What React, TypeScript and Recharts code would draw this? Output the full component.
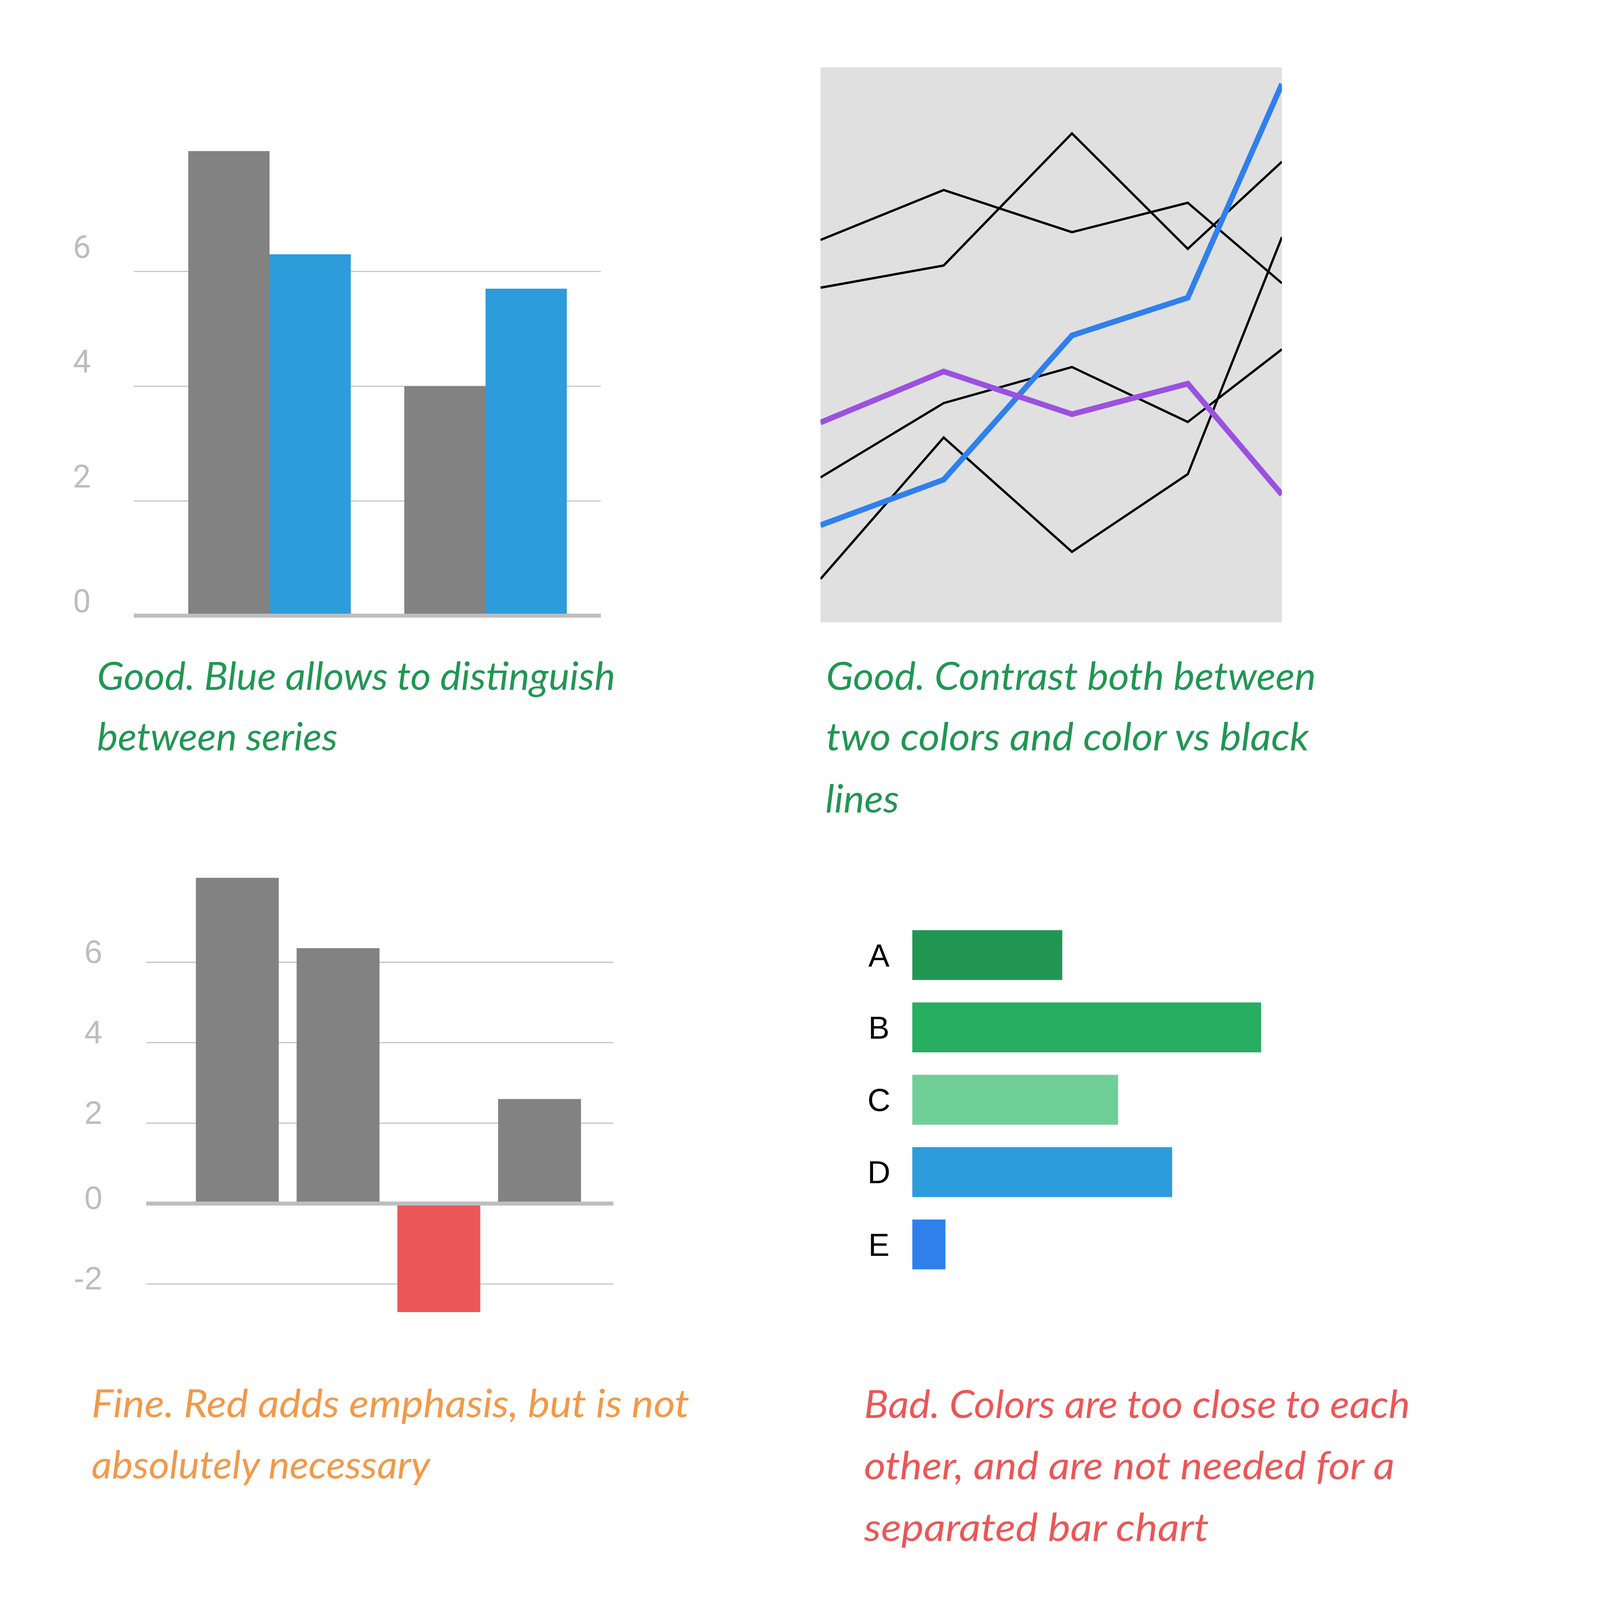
import React, { useEffect, useState } from 'react';
import {
  BarChart, Bar, LineChart, Line, Cell, XAxis, YAxis, CartesianGrid, ReferenceLine,
} from 'recharts';

// top-left: grouped bars
const GROUP_CATS = ['Group 1', 'Group 2'];
const GROUP_GRAY = [8.1, 4.0];
const GROUP_BLUE = [6.3, 5.7];
const GROUP_TICKS = [0, 2, 4, 6];

// top-right: lines on gray panel (x, 0..100)
const LINE_X = [0, 26.7, 54.5, 79.6, 100];
const LINE_BLACK_1 = [68.9, 77.9, 70.3, 75.6, 61.1];
const LINE_BLACK_2 = [60.3, 64.3, 88.1, 67.3, 83.0];
const LINE_BLACK_3 = [26.1, 39.5, 46.0, 36.1, 49.2];
const LINE_BLACK_4 = [7.8, 33.3, 12.7, 26.7, 69.4];
const LINE_BLUE = [17.5, 25.7, 51.7, 58.5, 97.0];
const LINE_PURPLE = [36.0, 45.2, 37.5, 43.0, 23.0];

// bottom-left: single series with one negative
const SINGLE_CATS = ['W', 'X', 'Y', 'Z'];
const SINGLE_VALUES = [8.1, 6.35, -2.7, 2.6];
const SINGLE_TICKS = [-2, 0, 2, 4, 6];

// bottom-right: horizontal bars
const HBAR_CATS = ['A', 'B', 'C', 'D', 'E'];
const HBAR_VALUES = [4.3, 10, 5.9, 7.45, 0.95];
const HBAR_COLORS = ['#219653', '#27AE60', '#6FCF97', '#2D9CDB', '#2F80ED'];

const GRAY = '#828282';
const GRID = '#BDBDBD';
const PAGE_W = 4392;
const PAGE_H = 4844;

const groupData = GROUP_CATS.map((name, i) => ({ name, gray: GROUP_GRAY[i], blue: GROUP_BLUE[i] }));
const singleData = SINGLE_CATS.map((name, i) => ({ name, value: SINGLE_VALUES[i] }));
const hbarData = HBAR_CATS.map((name, i) => ({ name, value: HBAR_VALUES[i] }));
const toLine = (ys: number[]) => LINE_X.map((x, i) => ({ x, y: ys[i] }));

const GroupTick = (props: any) => {
  const { x, y, payload } = props;
  const off = payload.value === 0 ? -11 : -41;
  return (
    <text x={x} y={y + off} textAnchor="end" fill={GRID} fontSize={97} fontFamily="Roboto">
      {payload.value}
    </text>
  );
};

const SingleTick = (props: any) => {
  const { x, y, payload } = props;
  const off = payload.value > 0 ? 2 : 16;
  return (
    <text x={x} y={y + off} textAnchor="end" fill={GRID} fontSize={98} fontFamily="Liberation Sans, Arial">
      {payload.value}
    </text>
  );
};

const HbarTick = (props: any) => {
  const { x, y, payload } = props;
  return (
    <text x={x} y={y} dy="0.355em" textAnchor="middle" fill="#000" fontSize={96} fontFamily="Liberation Sans, Arial">
      {payload.value}
    </text>
  );
};

type Caption = { text: string; x: number; y: number; w: number; color: string };

const CAPTIONS: Caption[] = [
  { text: 'Good. Blue allows to distinguish', x: 294, y: 2088, w: 1569, color: '#219653' },
  { text: 'between series', x: 294, y: 2272, w: 728, color: '#219653' },
  { text: 'Good. Contrast both between', x: 2501, y: 2088, w: 1483, color: '#219653' },
  { text: 'two colors and color vs black', x: 2501, y: 2272, w: 1462, color: '#219653' },
  { text: 'lines', x: 2499, y: 2460, w: 223, color: '#219653' },
  { text: 'Fine. Red adds emphasis, but is not', x: 277, y: 4290, w: 1810, color: '#F2994A' },
  { text: 'absolutely necessary', x: 277, y: 4476, w: 1025, color: '#F2994A' },
  { text: 'Bad. Colors are too close to each', x: 2616, y: 4293, w: 1653, color: '#EB5757' },
  { text: 'other, and are not needed for a', x: 2616, y: 4479, w: 1606, color: '#EB5757' },
  { text: 'separated bar chart', x: 2616, y: 4666, w: 1044, color: '#EB5757' },
];

const abs = (left: number, top: number): React.CSSProperties => ({ position: 'absolute', left, top });

// shrink the whole sheet if the window turns out smaller than the page
const fitScale = () => {
  const w = window.innerWidth || PAGE_W;
  const h = window.innerHeight || PAGE_H;
  return Math.min(1, w / PAGE_W, h / PAGE_H);
};

export default function App() {
  const [scale, setScale] = useState(fitScale);

  useEffect(() => {
    const onResize = () => setScale(fitScale());
    window.addEventListener('resize', onResize);
    return () => window.removeEventListener('resize', onResize);
  }, []);

  return (
    <div style={{ position: 'relative', margin: -8, width: PAGE_W * scale, height: PAGE_H * scale, overflow: 'hidden', background: '#fff' }}>
      <div style={{ position: 'absolute', left: 0, top: 0, width: PAGE_W, height: PAGE_H, background: '#fff',
        transform: `scale(${scale})`, transformOrigin: '0 0' }}>
        {/* top-left */}
        <div style={abs(0, 0)}>
          <BarChart width={1900} height={1900} data={groupData} barGap={0} barSize={246}
            margin={{ top: 301, right: 81, bottom: 36, left: 105 }}>
            <CartesianGrid vertical={false} stroke={GRID} strokeWidth={3} syncWithTicks />
            <XAxis dataKey="name" padding={{ left: 84, right: 22 }} hide />
            <YAxis type="number" domain={[0, 9]} ticks={GROUP_TICKS} width={300} axisLine={false}
              tickLine={false} tickSize={0} tickMargin={130} tick={GroupTick} />
            <Bar dataKey="gray" fill={GRAY} isAnimationActive={false} />
            <Bar dataKey="blue" fill="#2D9CDB" isAnimationActive={false} />
            <ReferenceLine y={0} stroke={GRID} strokeWidth={12} />
          </BarChart>
        </div>

        {/* top-right */}
        <div style={abs(2196, 0)}>
          <LineChart width={2196} height={2000} margin={{ top: 204, right: 511, bottom: 116, left: 288 }}>
            <CartesianGrid horizontal={false} vertical={false} fill="#E0E0E0" stroke="none" />
            <XAxis type="number" dataKey="x" domain={[0, 100]} hide allowDataOverflow />
            <YAxis type="number" domain={[0, 100]} hide allowDataOverflow />
            {[LINE_BLACK_1, LINE_BLACK_2, LINE_BLACK_3, LINE_BLACK_4].map((ys, i) => (
              <Line key={`black-${i}`} data={toLine(ys)} dataKey="y" type="linear" stroke="#000"
                strokeWidth={7} dot={false} activeDot={false} isAnimationActive={false} />
            ))}
            <Line data={toLine(LINE_BLUE)} dataKey="y" type="linear" stroke="#2F80ED" strokeWidth={17}
              dot={false} activeDot={false} isAnimationActive={false} />
            <Line data={toLine(LINE_PURPLE)} dataKey="y" type="linear" stroke="#9B51E0" strokeWidth={17}
              dot={false} activeDot={false} isAnimationActive={false} />
          </LineChart>
        </div>

        {/* bottom-left */}
        <div style={abs(0, 2422)}>
          <BarChart width={1900} height={1700} data={singleData} barSize={251}
            margin={{ top: 126, right: 43, bottom: 113, left: 143 }}>
            <CartesianGrid vertical={false} stroke={GRID} strokeWidth={3} syncWithTicks />
            <XAxis dataKey="name" padding={{ left: 123, right: 71 }} hide />
            <YAxis type="number" domain={[-3, 9]} ticks={SINGLE_TICKS} width={300} axisLine={false}
              tickLine={false} tickSize={0} tickMargin={133} tick={SingleTick} />
            <Bar dataKey="value" isAnimationActive={false}>
              {singleData.map((d, i) => (
                <Cell key={`c-${i}`} fill={d.value < 0 ? '#EB5757' : GRAY} />
              ))}
            </Bar>
            <ReferenceLine y={0} stroke={GRID} strokeWidth={12} />
          </BarChart>
        </div>

        {/* bottom-right */}
        <div style={abs(2196, 2422)}>
          <BarChart width={2196} height={1700} data={hbarData} layout="vertical" barSize={151}
            margin={{ top: 360, right: 574, bottom: 245, left: 366 }}>
            <XAxis type="number" domain={[0, 10]} hide />
            <YAxis type="category" dataKey="name" width={200} axisLine={false} tickLine={false}
              tickSize={0} tickMargin={101} tick={HbarTick} />
            <Bar dataKey="value" isAnimationActive={false}>
              {hbarData.map((d, i) => (
                <Cell key={`h-${i}`} fill={HBAR_COLORS[i]} />
              ))}
            </Bar>
          </BarChart>
        </div>

        {/* captions */}
        <svg width={PAGE_W} height={PAGE_H} style={{ position: 'absolute', left: 0, top: 0, pointerEvents: 'none' }}>
          {CAPTIONS.map((c, i) => (
            <text key={i} x={c.x} y={c.y} fill={c.color} fontSize={118} fontStyle="italic"
              fontFamily="Lato, 'Open Sans'" textLength={c.w} lengthAdjust="spacingAndGlyphs">
              {c.text}
            </text>
          ))}
        </svg>
      </div>
    </div>
  );
}
